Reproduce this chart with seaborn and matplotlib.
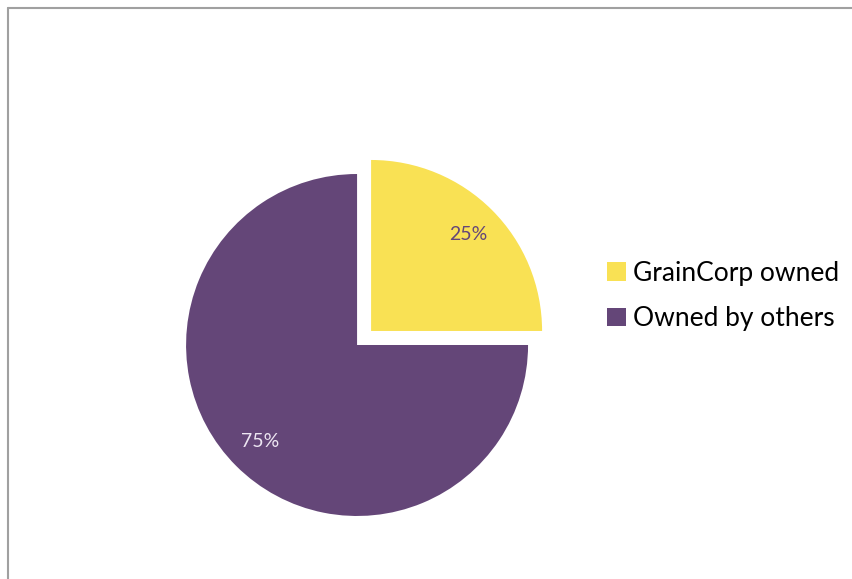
import matplotlib
matplotlib.use("Agg")
import matplotlib.pyplot as plt
import seaborn as sns
from matplotlib.patches import Patch
from matplotlib.lines import Line2D

categories = ["GrainCorp owned", "Owned by others"]
shares = [25, 75]
colors = ["#F9E154", "#644678"]
pct_colors = ["#644678", "#EDE6F2"]

sns.set_theme(style="white")
plt.rcParams["font.family"] = ["Lato", "DejaVu Sans"]

fig = plt.figure(figsize=(8.53, 5.79), dpi=100)
fig.patch.set_facecolor("white")

ax = fig.add_axes([0.158, 0.0202, 0.5212, 0.7679])
pal = sns.color_palette(colors)
wedges, texts, autotexts = ax.pie(
    shares, colors=pal, startangle=90, counterclock=False,
    explode=[0.116, 0], autopct="%d%%", pctdistance=0.8,
    wedgeprops=dict(linewidth=0))
for t, c in zip(autotexts, pct_colors):
    t.set_color(c)
    t.set_fontsize(14)
    t.set_fontfamily(["Lato", "DejaVu Sans"])
ax.set_xlim(-1.3, 1.3)
ax.set_ylim(-1.3, 1.3)
ax.set_aspect("equal")
ax.axis("off")

handles = [Patch(facecolor=c, edgecolor="none") for c in pal]
leg = fig.legend(handles, categories, loc="center left",
                 bbox_to_anchor=(0.684, 0.489), frameon=False,
                 handlelength=0.72, handleheight=0.72,
                 handletextpad=0.25, labelspacing=0.78,
                 prop={"family": ["Lato", "DejaVu Sans"], "size": 19})
for t in leg.get_texts():
    t.set_color("black")

# border
fig.add_artist(Line2D([8 / 853, 1], [1 - 7.5 / 579, 1 - 7.5 / 579],
                      color="#A0A0A0", linewidth=1.5, transform=fig.transFigure))
fig.add_artist(Line2D([8 / 853, 8 / 853], [0, 1 - 7.5 / 579],
                      color="#A0A0A0", linewidth=1.5, transform=fig.transFigure))

fig.savefig("out.png", dpi=100, facecolor="white")
